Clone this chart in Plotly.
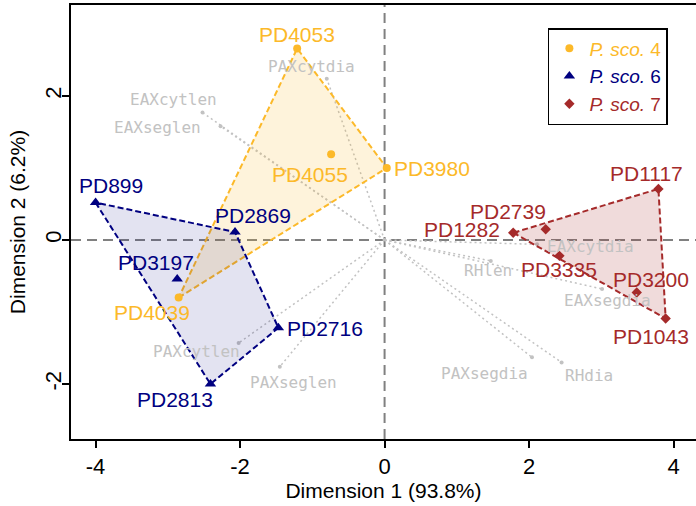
import plotly.graph_objects as go

# ---------------- data ----------------
groups = ["P. sco. 4", "P. sco. 6", "P. sco. 7"]
group_colors = ["#FCB929", "#000080", "#A52A2A"]
group_fills = ["rgba(252,185,41,0.17)", "rgba(0,0,128,0.11)", "rgba(165,42,42,0.17)"]
group_symbols = ["circle", "triangle-up", "diamond"]
group_sizes = [8, 10, 8]

ind_names = ["PD4053", "PD4055", "PD3980", "PD4039",
             "PD899", "PD2869", "PD3197", "PD2716", "PD2813",
             "PD1117", "PD1043", "PD3200", "PD1282", "PD2739", "PD3335"]
ind_group = [0, 0, 0, 0,
             1, 1, 1, 1, 1,
             2, 2, 2, 2, 2, 2]
ind_x = [-1.21, -0.74, 0.03, -2.85,
         -4.00, -2.07, -2.87, -1.47, -2.41,
         3.79, 3.89, 3.49, 1.78, 2.23, 2.42]
ind_y = [2.66, 1.19, 1.00, -0.80,
         0.52, 0.11, -0.54, -1.22, -2.00,
         0.71, -1.09, -0.73, 0.10, 0.15, -0.22]
# label offsets in pixels (dx right, dy up)
ind_lab_dx = [0, -21, 45, -27, 15, 18, -21, 47, -35, -12, -15, 14, -51, -38, 0]
ind_lab_dy = [14, -20, 0, -15, 17, 17, 16, -1, -16, 15, -18, 13, 3, 18, -14]

var_names = ["EAXcytlen", "EAXseglen", "PAXcytdia", "PAXcytlen", "PAXseglen",
             "RHlen", "EAXcytdia", "EAXsegdia", "PAXsegdia", "RHdia"]
var_x = [-2.52, -2.27, -0.80, -2.02, -1.45, 1.47, 2.11, 3.01, 2.04, 2.45]
var_y = [1.77, 1.58, 2.24, -1.43, -1.76, -0.29, -0.06, -0.68, -1.63, -1.70]
var_lab_dx = [-29, -63, -15, -42, 14, -3, 53, 5, -47, 27]
var_lab_dy = [13, -1, 12, -9, -16, -10, -2, -12, -16, -13]

x_ticks = [-4, -2, 0, 2, 4]
y_ticks = [-2, 0, 2]
x_title = "Dimension 1 (93.8%)"
y_title = "Dimension 2 (6.2%)"

x_range = [-4.34, 4.31]
y_range = [-2.764, 3.264]

LAB_FONT = "Liberation Sans, Arial, Helvetica, sans-serif"
MONO_FONT = "DejaVu Sans Mono, monospace"
GREY = "#C2C2C2"


def convex_hull(pts):
    pts = sorted(set(pts))
    if len(pts) < 3:
        return pts

    def cross(o, a, b):
        return (a[0] - o[0]) * (b[1] - o[1]) - (a[1] - o[1]) * (b[0] - o[0])

    lower = []
    for p in pts:
        while len(lower) >= 2 and cross(lower[-2], lower[-1], p) <= 0:
            lower.pop()
        lower.append(p)
    upper = []
    for p in reversed(pts):
        while len(upper) >= 2 and cross(upper[-2], upper[-1], p) <= 0:
            upper.pop()
        upper.append(p)
    return lower[:-1] + upper[:-1]


fig = go.Figure()

# zero reference lines
fig.add_trace(go.Scatter(x=[x_range[0], x_range[1]], y=[0, 0], mode="lines",
                         line=dict(color="#808080", width=2, dash="10px,6px"),
                         showlegend=False, hoverinfo="skip"))
fig.add_trace(go.Scatter(x=[0, 0], y=[y_range[0], y_range[1]], mode="lines",
                         line=dict(color="#808080", width=2, dash="10px,6px"),
                         showlegend=False, hoverinfo="skip"))

# variable arrows (dotted)
for vx, vy in zip(var_x, var_y):
    fig.add_trace(go.Scatter(x=[0, vx], y=[0, vy], mode="lines",
                             line=dict(color=GREY, width=1.5, dash="2px,3px"),
                             showlegend=False, hoverinfo="skip"))
fig.add_trace(go.Scatter(x=var_x, y=var_y, mode="markers",
                         marker=dict(color=GREY, size=4),
                         showlegend=False, hoverinfo="skip"))

# hulls
for g in range(len(groups)):
    pts = [(ind_x[i], ind_y[i]) for i in range(len(ind_x)) if ind_group[i] == g]
    hull = convex_hull(pts)
    hull = hull + [hull[0]]
    fig.add_trace(go.Scatter(x=[p[0] for p in hull], y=[p[1] for p in hull],
                             mode="lines", fill="toself", fillcolor=group_fills[g],
                             line=dict(color=group_colors[g], width=2, dash="6px,3px"),
                             showlegend=False, hoverinfo="skip"))

# points
for g in range(len(groups)):
    xs = [ind_x[i] for i in range(len(ind_x)) if ind_group[i] == g]
    ys = [ind_y[i] for i in range(len(ind_y)) if ind_group[i] == g]
    name = groups[g].rsplit(" ", 1)
    fig.add_trace(go.Scatter(
        x=xs, y=ys, mode="markers",
        marker=dict(color=group_colors[g], symbol=group_symbols[g], size=group_sizes[g]),
        name='<span style="color:%s"><i>%s</i> %s</span>' % (group_colors[g], name[0], name[1]),
        showlegend=True))

annotations = []
for i, n in enumerate(ind_names):
    annotations.append(dict(x=ind_x[i], y=ind_y[i], text=n, showarrow=False,
                            xshift=ind_lab_dx[i], yshift=ind_lab_dy[i],
                            font=dict(family=LAB_FONT, size=21,
                                      color=group_colors[ind_group[i]])))
for i, n in enumerate(var_names):
    annotations.append(dict(x=var_x[i], y=var_y[i], text=n, showarrow=False,
                            xshift=var_lab_dx[i], yshift=var_lab_dy[i],
                            font=dict(family=MONO_FONT, size=16, color=GREY)))

fig.update_layout(
    width=696, height=506,
    margin=dict(l=71, r=0, t=5, b=67, autoexpand=False),
    paper_bgcolor="white", plot_bgcolor="white",
    annotations=annotations,
    font=dict(family=LAB_FONT, color="black"),
    legend=dict(x=0.763, y=0.947, xanchor="left", yanchor="top",
                bgcolor="white", bordercolor="black", borderwidth=1.5,
                font=dict(family=LAB_FONT, size=19),
                itemsizing="trace"),
    xaxis=dict(range=x_range, tickvals=x_ticks, ticktext=[str(v) for v in x_ticks],
               showgrid=False, zeroline=False, showline=True, linecolor="black",
               linewidth=2, mirror=True, ticks="outside", ticklen=7, tickwidth=1.5,
               tickcolor="black", tickfont=dict(size=22, family=LAB_FONT), automargin=False,
               title=dict(text=x_title, font=dict(size=21, family=LAB_FONT), standoff=4)),
    yaxis=dict(range=y_range, tickvals=y_ticks, ticktext=[str(v) for v in y_ticks],
               showgrid=False, zeroline=False, showline=True, linecolor="black",
               linewidth=2, mirror=False, ticks="outside", ticklen=7, tickwidth=1.5,
               tickcolor="black", tickangle=-90, tickfont=dict(size=22, family=LAB_FONT),
               ticklabelstandoff=-8, automargin=False,
               title=dict(text=y_title, font=dict(size=21, family=LAB_FONT), standoff=10)),
)

fig.write_html("out.html", config={"displayModeBar": False},
               post_script="document.body.style.margin='0';document.body.style.overflow='hidden';")
